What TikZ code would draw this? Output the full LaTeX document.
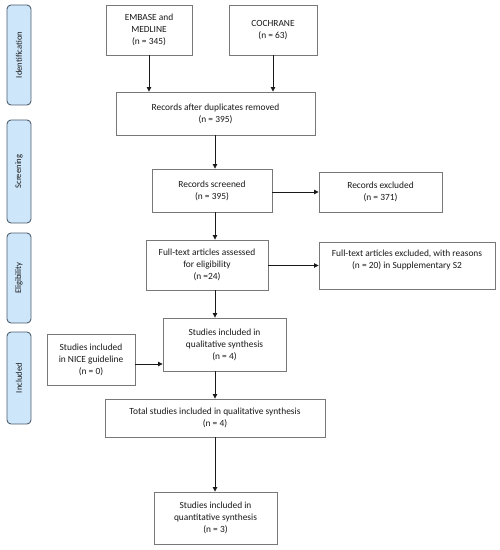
\documentclass[tikz,border=0pt]{standalone}
\usepackage{fontspec}
\setmainfont{Carlito}
\usetikzlibrary{arrows.meta}
\definecolor{boxline}{RGB}{120,120,120}
\definecolor{sidefill}{RGB}{205,230,250}
\definecolor{sideline}{RGB}{80,95,110}
\begin{document}
\begin{tikzpicture}[x=1bp,y=-1bp,
  box/.style={draw=boxline,line width=0.9bp,fill=white,align=center,inner sep=2bp,
    font=\fontsize{9.4bp}{12bp}\selectfont,text=black!90},
  side/.style={draw=sideline,line width=0.9bp,fill=sidefill,rounded corners=4bp,
    minimum width=24bp,inner sep=0pt},
  sidetext/.style={rotate=90,font=\fontsize{8.6bp}{10bp}\selectfont,text=black!90},
  arr/.style={-{Triangle[length=4.5bp,width=4.5bp]},line width=0.8bp,black!90}]
\useasboundingbox (0,0) rectangle (500,550);
% side labels
\node[side,minimum height=100bp] (sid) at (19,55) {};
\node[sidetext] (sidt) at (sid.center) {Identification};
\node[side,minimum height=103bp] (ssc) at (19,171.5) {};
\node[sidetext] (ssct) at (ssc.center) {Screening};
\node[side,minimum height=90bp] (sel) at (19,278) {};
\node[sidetext] (selt) at (sel.center) {Eligibility};
\node[side,minimum height=92bp] (sin) at (19,378) {};
\node[sidetext] (sint) at (sin.center) {Included};
% boxes
\node[box,minimum width=86bp,minimum height=50bp] (emb) at (149,30) {EMBASE and\\MEDLINE\\(n = 345)};
\node[box,minimum width=88bp,minimum height=50bp] (coch) at (273,30) {COCHRANE\\(n = 63)};
\node[box,minimum width=199bp,minimum height=43bp] (dup) at (215.5,113.5) {Records after duplicates removed\\(n = 395)};
\node[box,minimum width=120bp,minimum height=43bp] (scr) at (212,190.5) {Records screened\\(n = 395)};
\node[box,minimum width=123bp,minimum height=40bp] (exc) at (380.5,192) {Records excluded\\(n = 371)};
\node[box,minimum width=122bp,minimum height=50bp] (ass) at (207,265) {Full-text articles assessed\\for eligibility\\(n =24)};
\node[box,minimum width=176bp,minimum height=47bp] (ftx) at (407,265.5) {Full-text articles excluded, with reasons\\(n = 20) in Supplementary S2\\[-3bp]\strut};
\node[box,minimum width=123bp,minimum height=53bp] (qual) at (224.5,344.5) {Studies included in\\qualitative synthesis\\(n = 4)};
\node[box,minimum width=88bp,minimum height=51bp] (nice) at (91,359.5) {Studies included\\in NICE guideline\\(n = 0)};
\node[box,minimum width=220bp,minimum height=38bp] (tot) at (215,418) {Total studies included in qualitative synthesis\\(n = 4)};
\node[box,minimum width=123bp,minimum height=52bp] (quan) at (215.5,518) {Studies included in\\quantitative synthesis\\(n = 3)};
% helper coordinates
\coordinate (cx) at (215,0);
\coordinate (cy) at (0,364);
% arrows
\draw[arr] (emb.south) -- (emb.south |- dup.north);
\draw[arr] (coch.south) -- (coch.south |- dup.north);
\draw[arr] (dup.south -| cx) -- (scr.north -| cx);
\draw[arr] (scr.east |- exc.west) -- (exc.west);
\draw[arr] (scr.south -| cx) -- (ass.north -| cx);
\draw[arr] (ass.east |- ftx.west) -- (ftx.west);
\draw[arr] (ass.south -| cx) -- (qual.north -| cx);
\draw[arr] (nice.east |- cy) -- (qual.west |- cy);
\draw[arr] (qual.south -| cx) -- (tot.north -| cx);
\draw[arr] (tot.south -| cx) -- (quan.north -| cx);
\end{tikzpicture}
\end{document}
